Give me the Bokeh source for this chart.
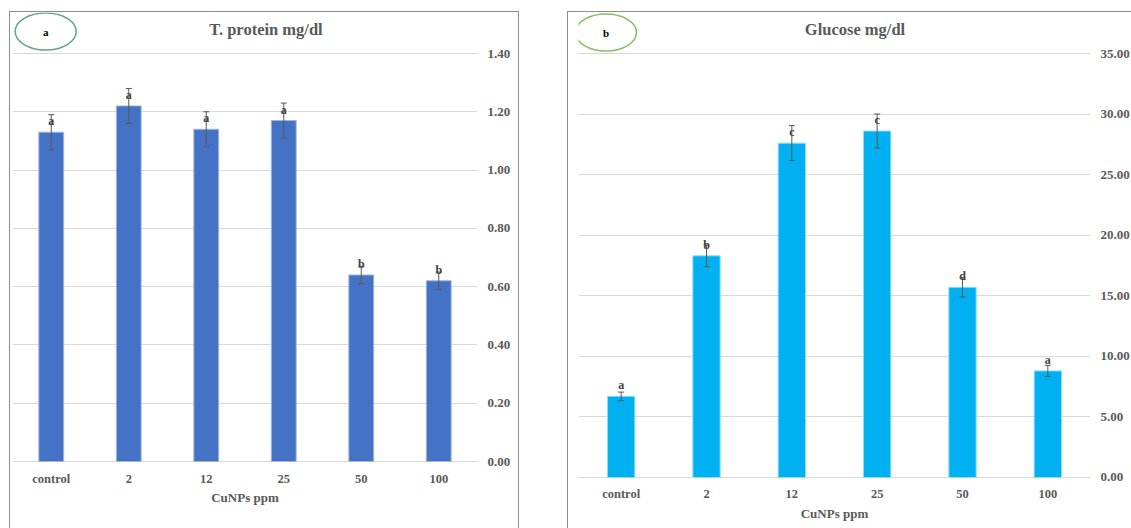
from bokeh.plotting import figure
from bokeh.models import (Range1d, FixedTicker, NumeralTickFormatter, ColumnDataSource,
                          Whisker, TeeHead, LabelSet, Label, Spacer)
from bokeh.layouts import row, column
from bokeh.embed import file_html
from bokeh.resources import INLINE

categories = ["control", "2", "12", "25", "50", "100"]
protein = [1.13, 1.22, 1.14, 1.17, 0.64, 0.62]
protein_err = [0.06, 0.06, 0.06, 0.06, 0.03, 0.03]
protein_groups = ["a", "a", "a", "a", "b", "b"]
glucose = [6.7, 18.3, 27.6, 28.6, 15.7, 8.8]
glucose_err = [0.35, 0.9, 1.45, 1.4, 0.8, 0.45]
glucose_groups = ["a", "b", "c", "c", "d", "a"]
protein_ticks = [0, 0.2, 0.4, 0.6, 0.8, 1.0, 1.2, 1.4]
glucose_ticks = [0, 5, 10, 15, 20, 25, 30, 35]

SERIF = "Liberation Serif"
GRAY = "#595959"


def make_panel(values, errs, groups, ticks, y_start, y_end, title, letter,
               bar_color, bar_edge, ell_color, width, height,
               mb_left, mb_right, mb_bottom, styles,
               title_xy, ell_xy, y_standoff, lab_standoff, axlab_standoff):
    x = list(range(len(categories)))
    src = ColumnDataSource(dict(
        x=x, top=values,
        upper=[v + e for v, e in zip(values, errs)],
        lower=[v - e for v, e in zip(values, errs)],
        grp=groups,
    ))
    p = figure(width=width, height=height, output_backend="svg", toolbar_location=None,
               x_range=Range1d(-0.5, len(categories) - 0.5),
               y_range=Range1d(y_start, y_end), y_axis_location="right",
               min_border_left=mb_left, min_border_right=mb_right,
               min_border_top=0, min_border_bottom=mb_bottom)
    p.outline_line_color = None
    p.background_fill_color = "white"
    p.border_fill_color = "white"
    p.styles = styles

    p.vbar(x="x", top="top", width=0.32, bottom=0, source=src,
           fill_color=bar_color, line_color=bar_edge, line_width=1)

    wh = Whisker(source=src, base="x", upper="upper", lower="lower",
                 line_color=GRAY, line_width=1, level="annotation",
                 upper_head=TeeHead(size=6, line_color=GRAY, line_width=1),
                 lower_head=TeeHead(size=6, line_color=GRAY, line_width=1))
    p.add_layout(wh)

    ls = LabelSet(x="x", y="top", text="grp", source=src, y_offset=11,
                  text_align="center", text_baseline="middle",
                  text_font=SERIF, text_font_style="bold", text_font_size="12px",
                  text_color="#404040", level="overlay")
    p.add_layout(ls)

    # ellipse badge and panel title
    p.ellipse(x=[ell_xy[0]], y=[ell_xy[1]], width=61, height=37,
              width_units="screen", height_units="screen",
              fill_color=None, line_color=ell_color, line_width=1.5)
    p.add_layout(Label(x=ell_xy[0], y=ell_xy[1], text=letter, text_align="center",
                       text_baseline="middle", text_font=SERIF, text_font_style="bold",
                       text_font_size="11px", text_color="black"))
    p.add_layout(Label(x=title_xy[0], y=title_xy[1], text=title, text_align="center",
                       text_baseline="middle", text_font=SERIF, text_font_style="bold",
                       text_font_size="16.5px", text_color=GRAY))

    # axes
    p.xgrid.grid_line_color = None
    p.ygrid.grid_line_color = "#d9d9d9"
    p.ygrid.grid_line_width = 1
    p.ygrid.ticker = FixedTicker(ticks=ticks)

    ya = p.yaxis[0]
    ya.ticker = FixedTicker(ticks=ticks)
    ya.formatter = NumeralTickFormatter(format="0.00")
    ya.axis_line_color = None
    ya.major_tick_line_color = None
    ya.minor_tick_line_color = None
    ya.major_tick_out = 0
    ya.major_tick_in = 0
    ya.minor_tick_out = 0
    ya.minor_tick_in = 0
    ya.major_label_standoff = y_standoff
    ya.major_label_text_font = SERIF
    ya.major_label_text_font_style = "bold"
    ya.major_label_text_font_size = "13px"
    ya.major_label_text_color = GRAY

    xa = p.xaxis[0]
    xa.ticker = FixedTicker(ticks=x)
    xa.major_label_overrides = {i: c for i, c in enumerate(categories)}
    xa.axis_line_color = None
    xa.major_tick_line_color = None
    xa.minor_tick_line_color = None
    xa.major_tick_out = 0
    xa.major_tick_in = 0
    xa.minor_tick_out = 0
    xa.minor_tick_in = 0
    xa.major_label_standoff = lab_standoff
    xa.major_label_text_font = SERIF
    xa.major_label_text_font_style = "bold"
    xa.major_label_text_font_size = "12.5px"
    xa.major_label_text_color = GRAY
    xa.axis_label = "CuNPs ppm"
    xa.axis_label_standoff = axlab_standoff
    xa.axis_label_text_font = SERIF
    xa.axis_label_text_font_style = "bold"
    xa.axis_label_text_font_size = "13px"
    xa.axis_label_text_color = GRAY
    return p


BORDER = "1px solid #8c8c8c"

p1 = make_panel(protein, protein_err, protein_groups, protein_ticks,
                -0.0034, 1.5407, "T. protein mg/dl", "a",
                "#4472C4", "#9db4e0", "#5aa88c", 508, 516,
                2, 43, 67,
                {"border-left": BORDER, "border-top": BORDER, "border-right": BORDER,
                 "box-sizing": "content-box"},
                (2.77, 1.482), (-0.072, 1.4755), 10, 9, 1)

p2 = make_panel(glucose, glucose_err, glucose_groups, glucose_ticks,
                -0.083, 38.385, "Glucose mg/dl", "b",
                "#00B0F0", "#8fdcf8", "#84bf5f", 563, 516,
                10, 38, 51,
                {"border-left": BORDER, "border-top": BORDER,
                 "box-sizing": "content-box"},
                (2.74, 36.99), (-0.178, 36.73), 10, 8, 2)

layout = column(Spacer(height=11),
                row(Spacer(width=9), column(p1), Spacer(width=48), column(p2)))

open("out.html", "w").write(file_html(layout, INLINE))
